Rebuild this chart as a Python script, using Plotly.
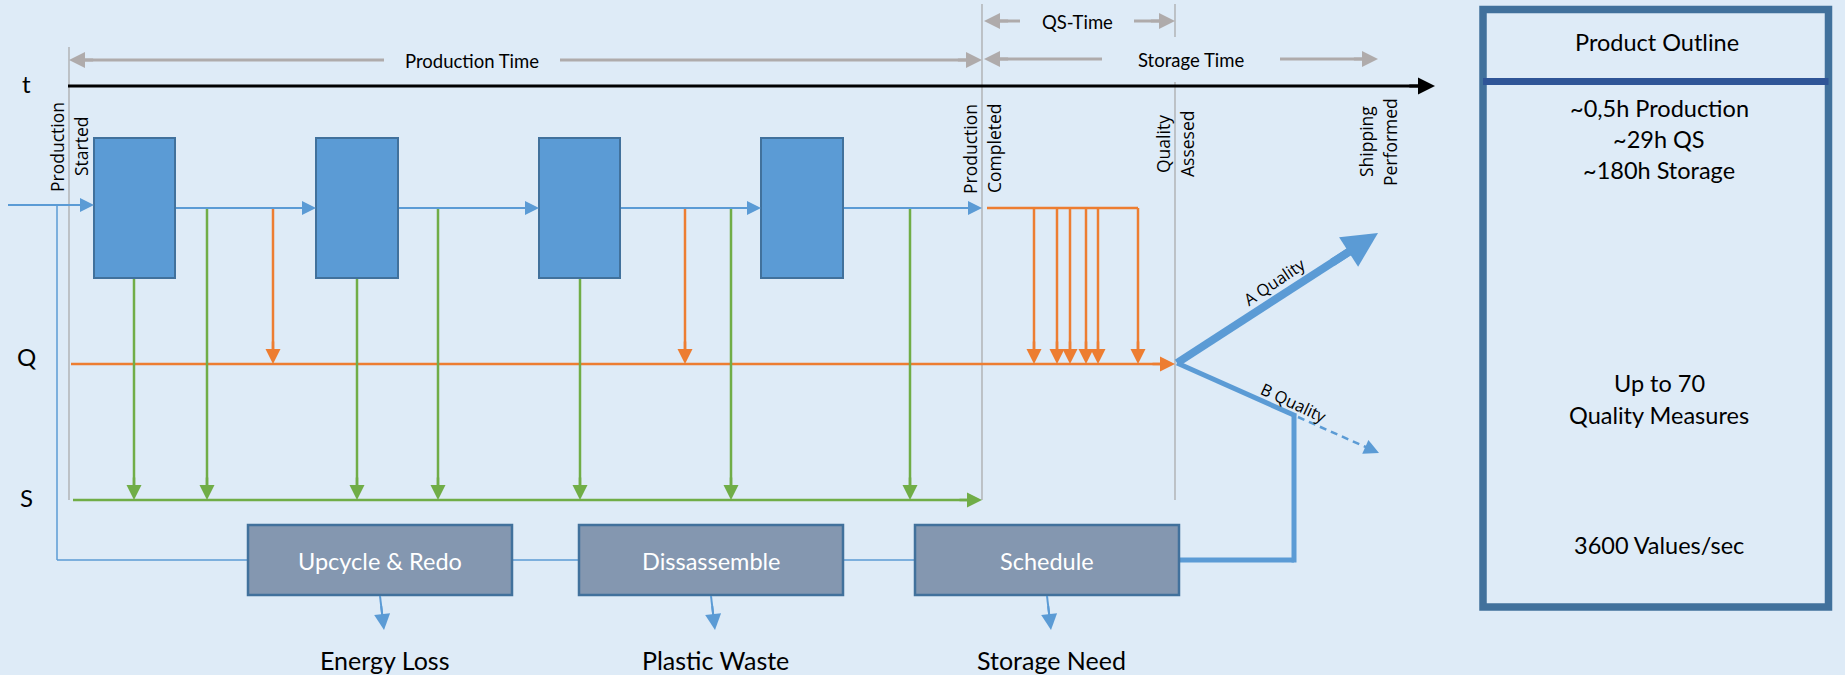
import math
import plotly.graph_objects as go

# ---------------- diagram data (units = pixels of the 1845 x 675 canvas) ----------------
W, H = 1845, 675

lane_labels = ["t", "Q", "S"]
lane_label_x = 26
lane_label_y = [83, 356, 497]

time_axis_y = 86
time_axis_x = [68, 1435]
flow_y = 208
input_y = 205
input_x = [8, 57]
quality_y = 364
storage_y = 500

milestone_x = [69, 982, 1175, 1378]
milestone_line1 = ["Production", "Production", "Quality", "Shipping"]
milestone_line2 = ["Started", "Completed", "Assesed", "Performed"]
milestone_label_y = [147, 149, 144, 142]
milestone_line_segments = [[(47, 500)], [(4, 500)], [(4, 37), (82, 500)], []]

span_labels = ["Production Time", "QS-Time", "Storage Time"]
span_start = [69, 984, 984]
span_end = [982, 1175, 1378]
span_y = [60, 21, 59]
span_text_x = [472, 1077, 1191]
span_gap_half = [88, 57, 89]

step_x0 = [94, 316, 539, 761]
step_x1 = [175, 398, 620, 843]
step_y = [138, 278]

green_box_drop_x = [134, 357, 580]
green_flow_drop_x = [207, 438, 731, 910]
orange_prod_drop_x = [273, 685]
orange_qs_drop_x = [1034, 1057, 1070, 1086, 1098, 1138]
orange_qs_start_x = 987

rework_labels = ["Upcycle & Redo", "Dissassemble", "Schedule"]
rework_x0 = [248, 579, 915]
rework_x1 = [512, 843, 1179]
rework_y = [525, 595]
return_y = 560
return_x = 57
loss_labels = ["Energy Loss", "Plastic Waste", "Storage Need"]
loss_arrow_tip_y = 630
loss_label_y = 660

split_point = (1177, 363)
a_quality_tip = (1378, 233)
b_quality_knee = (1294, 415)
b_quality_tip = (1379, 453)
a_label = ("A Quality", 1274, 281, -34)
b_label = ("B Quality", 1294, 402, 25)

outline_box = [1483, 9.5, 1828.5, 607]
outline_sep_y = 81.5
outline_center_x = 1657
outline_title = ("Product Outline", 42)
outline_lines = ["~0,5h Production", "~29h QS", "~180h Storage",
                 "Up to 70", "Quality Measures", "3600 Values/sec"]
outline_line_y = [108, 139, 170, 383, 415, 545]

# ---------------- styles ----------------
BG = "#DEEBF7"
BLUE = "#5B9BD5"
BLUE_DARK = "#41719C"
NAVY = "#2F5597"
ORANGE = "#ED7D31"
GREEN = "#70AD47"
GRAY = "#AFABAB"
VGRAY = "#A6A6A6"
SLATE = "#8497B0"
FONT = "Lato"
FONT_ROT = "Open Sans"

fig = go.Figure()
shapes = []
annots = []


def line(x0, y0, x1, y1, color, width, dash="solid"):
    shapes.append(dict(type="line", xref="x", yref="y", x0=x0, y0=y0, x1=x1, y1=y1,
                       line=dict(color=color, width=width, dash=dash)))


def arrow(x0, y0, x1, y1, color, width, head, draw_line=True):
    dx, dy = x1 - x0, y1 - y0
    L = math.hypot(dx, dy)
    ux, uy = dx / L, dy / L
    if draw_line:
        back = head * 0.6
        line(x0, y0, x1 - ux * back, y1 - uy * back, color, width)
    stem = min(L, head * 1.6)
    annots.append(dict(x=x1, y=y1, ax=x1 - ux * stem, ay=y1 - uy * stem,
                       xref="x", yref="y", axref="x", ayref="y", text="",
                       showarrow=True, arrowhead=2, arrowsize=head / (5.0 * width),
                       arrowwidth=width, arrowcolor=color, standoff=0))


def text(x, y, s, size, color="black", family=FONT, angle=0, xanchor="center"):
    annots.append(dict(x=x, y=y, xref="x", yref="y", text=s, showarrow=False,
                       textangle=angle, xanchor=xanchor, yanchor="middle",
                       font=dict(family=family, size=size, color=color)))


def rect(x0, y0, x1, y1, fill, border, width):
    shapes.append(dict(type="rect", xref="x", yref="y", x0=x0, y0=y0, x1=x1, y1=y1,
                       fillcolor=fill, line=dict(color=border, width=width)))


# milestone vertical lines
for mx, segs in zip(milestone_x, milestone_line_segments):
    for (ya, yb) in segs:
        line(mx, ya, mx, yb, VGRAY, 1.2)

# lane labels
for lab, ly in zip(lane_labels, lane_label_y):
    text(lane_label_x, ly, lab, 24)

# time axis
arrow(time_axis_x[0], time_axis_y, time_axis_x[1], time_axis_y, "black", 3, 17)

# span arrows (Production Time, QS-Time, Storage Time)
for lab, s0, s1, sy, tx, g in zip(span_labels, span_start, span_end, span_y, span_text_x, span_gap_half):
    arrow(tx - g, sy, s0, sy, GRAY, 3, 16)
    arrow(tx + g, sy, s1, sy, GRAY, 3, 16)
    text(tx, sy + 1, lab, 18.5)

# milestone rotated labels
for mx, l1, l2, my in zip(milestone_x, milestone_line1, milestone_line2, milestone_label_y):
    text(mx - 12, my, l1, 17.5, family=FONT_ROT, angle=-90)
    text(mx + 12, my, l2, 17.5, family=FONT_ROT, angle=-90)

# quality and storage lanes
arrow(milestone_x[0] + 2, quality_y, milestone_x[2], quality_y, ORANGE, 2.5, 15)
arrow(milestone_x[0] + 4, storage_y, milestone_x[1], storage_y, GREEN, 2.5, 15)

# green drops
for gx in green_box_drop_x:
    arrow(gx, step_y[1], gx, storage_y, GREEN, 2.5, 15)
for gx in green_flow_drop_x:
    arrow(gx, flow_y, gx, storage_y, GREEN, 2.5, 15)

# orange drops during production
for ox in orange_prod_drop_x:
    arrow(ox, flow_y, ox, quality_y, ORANGE, 2.5, 15)

# orange QS drops
line(orange_qs_start_x, flow_y, orange_qs_drop_x[-1], flow_y, ORANGE, 2.5)
for ox in orange_qs_drop_x:
    arrow(ox, flow_y, ox, quality_y, ORANGE, 2.5, 15)

# material flow
arrow(input_x[0], input_y, step_x0[0], input_y, BLUE, 2, 14)
for i in range(len(step_x0)):
    nxt = step_x0[i + 1] if i + 1 < len(step_x0) else milestone_x[1]
    arrow(step_x1[i], flow_y, nxt, flow_y, BLUE, 2, 14)

# process boxes
for x0, x1 in zip(step_x0, step_x1):
    rect(x0, step_y[0], x1, step_y[1], BLUE, BLUE_DARK, 2)

# return path (thin blue)
line(input_x[1], input_y, input_x[1], return_y, BLUE, 1.5)
line(input_x[1], return_y, rework_x0[0], return_y, BLUE, 1.5)
for i in range(len(rework_x0) - 1):
    line(rework_x1[i], return_y, rework_x0[i + 1], return_y, BLUE, 1.5)

# B quality path to schedule (thick)
line(rework_x1[-1], return_y, b_quality_knee[0], return_y, BLUE, 5)
line(b_quality_knee[0], return_y + 2.5, b_quality_knee[0], b_quality_knee[1], BLUE, 5)

# rework boxes
for lab, x0, x1 in zip(rework_labels, rework_x0, rework_x1):
    rect(x0, rework_y[0], x1, rework_y[1], SLATE, BLUE_DARK, 2.5)
    text((x0 + x1) / 2, (rework_y[0] + rework_y[1]) / 2 + 1, lab, 23.5, color="white")

# losses
for lab, x0, x1 in zip(loss_labels, rework_x0, rework_x1):
    cx = (x0 + x1) / 2
    arrow(cx, rework_y[1] + 1, cx + 4, loss_arrow_tip_y, BLUE, 2, 16)
    text(cx + 4, loss_label_y, lab, 25)

# A / B quality branches
arrow(split_point[0], split_point[1], a_quality_tip[0], a_quality_tip[1], BLUE, 8, 35)
line(split_point[0], split_point[1], b_quality_knee[0] + 2, b_quality_knee[1] + 1, BLUE, 5)
line(b_quality_knee[0] + 4, b_quality_knee[1] + 2, b_quality_tip[0] - 10, b_quality_tip[1] - 4.5,
     BLUE, 2.5, dash="7px,5px")
arrow(b_quality_tip[0] - 14, b_quality_tip[1] - 6.3, b_quality_tip[0], b_quality_tip[1], BLUE, 2.5, 15,
      draw_line=False)
for lab, lx, ly, ang in [a_label, b_label]:
    text(lx, ly, lab, 16.5, family=FONT_ROT, angle=ang)

# product outline panel
rect(outline_box[0], outline_box[1], outline_box[2], outline_box[3], "rgba(0,0,0,0)", BLUE_DARK, 7.5)
line(outline_box[0], outline_sep_y, outline_box[2], outline_sep_y, NAVY, 7)
text(outline_center_x, outline_title[1], outline_title[0], 23.5)
for s, y in zip(outline_lines, outline_line_y):
    text(outline_center_x + 2, y, s, 23.5)

fig.update_layout(
    width=W, height=H, margin=dict(l=0, r=0, t=0, b=0),
    paper_bgcolor=BG, plot_bgcolor=BG, showlegend=False,
    xaxis=dict(range=[0, W], visible=False, fixedrange=True),
    yaxis=dict(range=[H, 0], visible=False, fixedrange=True),
    shapes=shapes, annotations=annots,
)
fig.write_html(
    "out.html",
    config={"displayModeBar": False},
    post_script="document.body.style.margin='0';document.body.style.overflow='hidden';",
)
